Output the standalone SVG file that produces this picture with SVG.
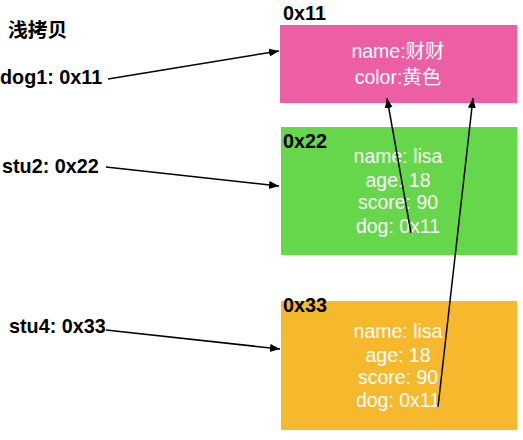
<svg xmlns="http://www.w3.org/2000/svg" width="523" height="440" viewBox="0 0 523 440">
<defs>
<style>
.lbl{font-family:"Liberation Sans","Noto Sans CJK SC",Arial,sans-serif;font-weight:bold;font-size:19.8px;fill:#000}
.in{font-family:"Liberation Sans","Noto Sans CJK SC",Arial,sans-serif;font-size:19.5px;fill:#fff;text-anchor:middle}
.conn{stroke:#000;stroke-width:1.5;fill:none;marker-end:url(#ah)}
</style>
<marker id="ah" markerUnits="userSpaceOnUse" markerWidth="12" markerHeight="10" refX="10" refY="4" orient="auto">
<path d="M0,0 L10,4 L0,8 Z" fill="#000"/>
</marker>
</defs>
<rect width="523" height="440" fill="#fff"/>
<text class="lbl" x="8" y="37">浅拷贝</text>
<g id="dog1"><text class="lbl" x="0" y="84">dog1: 0x11</text></g>
<g id="stu2"><text class="lbl" x="2" y="173">stu2: 0x22</text></g>
<g id="stu4"><text class="lbl" x="9" y="333">stu4: 0x33</text></g>
<g id="obj11">
<text class="lbl" x="283" y="20">0x11</text>
<rect x="280" y="25" width="237" height="78" fill="#EC5FA5"/>
<text class="in" x="398" y="58">name:财财</text>
<text class="in" x="398" y="84">color:黄色</text>
</g>
<g id="obj22">
<rect x="281" y="127" width="236" height="128" fill="#66D64A"/>
<text class="lbl" x="283" y="148">0x22</text>
<text class="in" x="398" y="163">name: lisa</text>
<text class="in" x="398" y="187">age: 18</text>
<text class="in" x="398" y="209">score: 90</text>
<text class="in" x="398" y="233">dog: 0x11</text>
</g>
<g id="obj33">
<rect x="281" y="301" width="236" height="129" fill="#F6B92E"/>
<text class="lbl" x="283" y="312">0x33</text>
<text class="in" x="398" y="338">name: lisa</text>
<text class="in" x="398" y="362">age: 18</text>
<text class="in" x="398" y="384">score: 90</text>
<text class="in" x="398" y="407">dog: 0x11</text>
</g>
<g id="connectors">
<line class="conn" x1="108" y1="79" x2="279" y2="51"/>
<line class="conn" x1="106" y1="167" x2="279" y2="186"/>
<line class="conn" x1="106" y1="330" x2="280" y2="349"/>
<line class="conn" x1="411" y1="233" x2="387" y2="98"/>
<line class="conn" x1="438" y1="407" x2="473" y2="98"/>
</g>
</svg>
